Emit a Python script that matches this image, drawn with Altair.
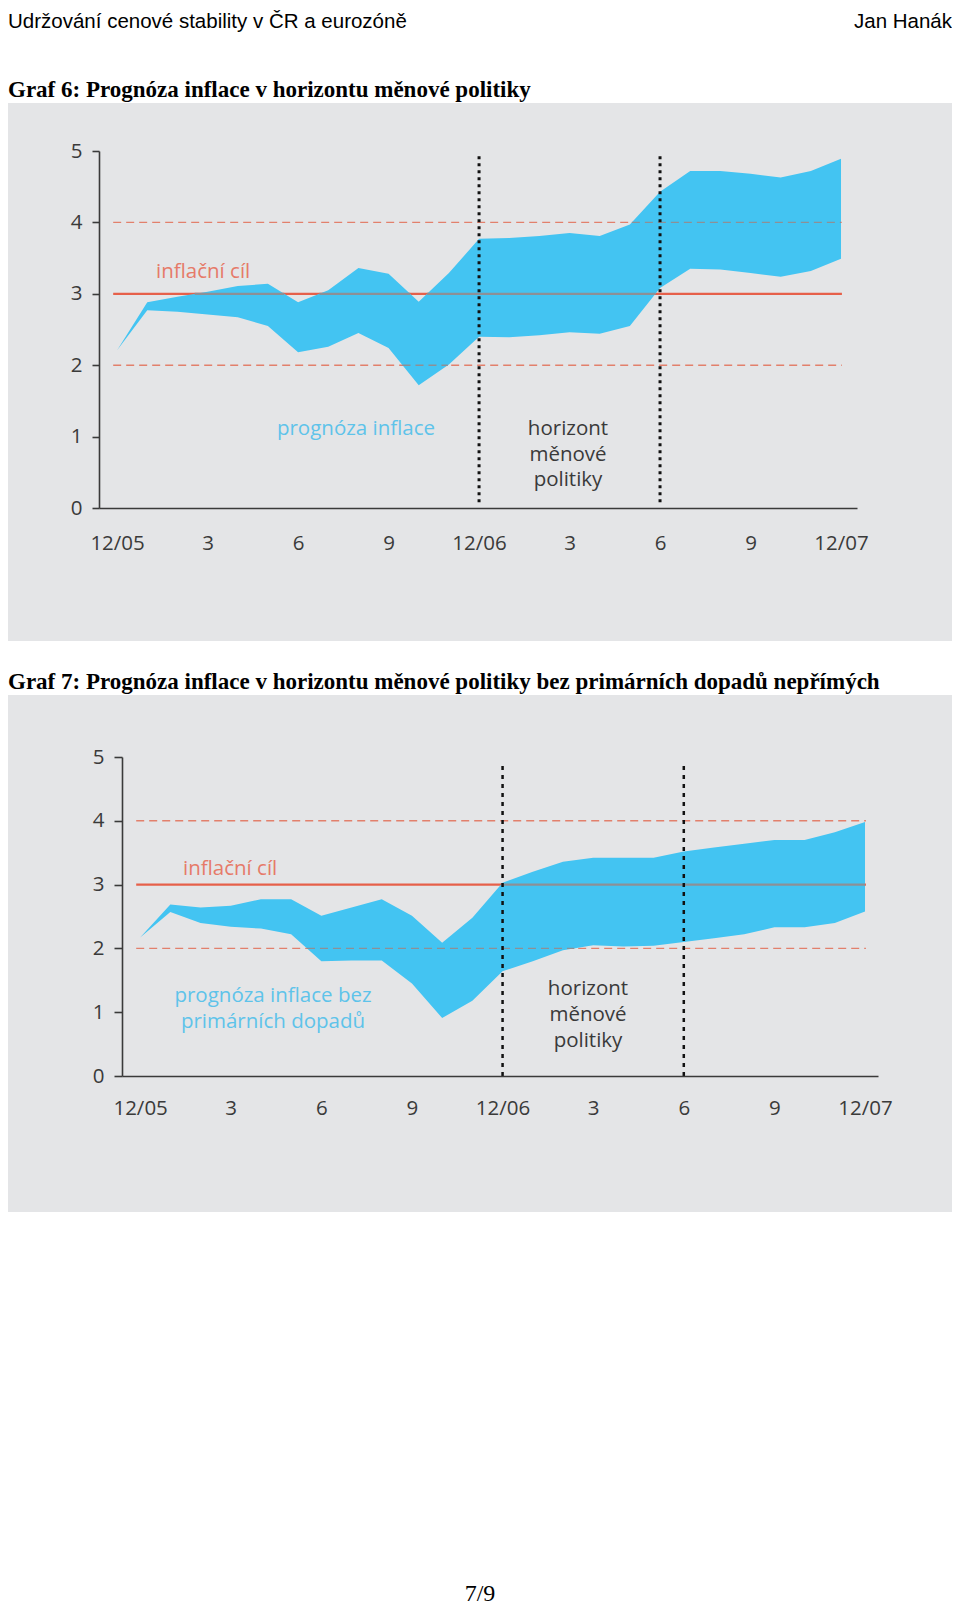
import altair as alt
import pandas as pd

# ---------------- data ----------------
MONTHS = list(range(25))  # 0 = 12/05 ... 24 = 12/07

G6_UPPER = [2.21, 2.88, 2.96, 3.03, 3.11, 3.14, 2.88, 3.05, 3.36, 3.28, 2.89, 3.29,
            3.77, 3.78, 3.81, 3.85, 3.81, 3.97, 4.43, 4.72, 4.72, 4.68, 4.63, 4.72, 4.89]
G6_LOWER = [2.21, 2.77, 2.75, 2.71, 2.67, 2.55, 2.18, 2.26, 2.45, 2.24, 1.72, 2.01,
            2.40, 2.39, 2.42, 2.46, 2.44, 2.55, 3.08, 3.35, 3.34, 3.29, 3.24, 3.32, 3.49]

G7_UPPER = [2.17, 2.69, 2.64, 2.67, 2.77, 2.77, 2.51, 2.64, 2.77, 2.51, 2.09, 2.48,
            3.03, 3.20, 3.36, 3.42, 3.42, 3.42, 3.52, 3.58, 3.64, 3.70, 3.70, 3.82, 3.98]
G7_LOWER = [2.17, 2.57, 2.40, 2.34, 2.31, 2.22, 1.80, 1.81, 1.81, 1.45, 0.91, 1.18,
            1.64, 1.80, 1.97, 2.05, 2.03, 2.04, 2.10, 2.16, 2.22, 2.33, 2.33, 2.40, 2.58]

X_TICK_VALUES = [0, 3, 6, 9, 12, 15, 18, 21, 24]
X_TICK_LABELS = ["12/05", "3", "6", "9", "12/06", "3", "6", "9", "12/07"]
Y_TICK_VALUES = [0, 1, 2, 3, 4, 5]

TARGET_LEVELS = [3]
BAND_LEVELS = [2, 4]
TARGET_FROM, TARGET_TO = -0.13, 24.03
HORIZON_MONTHS = [12, 18]

HEADER_LEFT = "Udržování cenové stability v ČR a eurozóně"
HEADER_RIGHT = "Jan Hanák"
TITLE_6 = "Graf 6: Prognóza inflace v horizontu měnové politiky"
TITLE_7 = "Graf 7: Prognóza inflace v horizontu měnové politiky bez primárních dopadů nepřímých"
FOOTER = "7/9"

# ---------------- styles ----------------
PAGE_W, PAGE_H = 944, 1601
PANEL = "#e4e5e7"
AREA = "#43c4f2"
RED = "#e6604a"
RED_DASH = "#e2806c"
OVER = "#8d9096"
TXT = "#3a3a3a"
LABEL_RED = "#e67a69"
LABEL_BLUE = "#5ec3ea"
SANS = "Open Sans"

label_expr = " : ".join(
    f"datum.value == {v} ? '{l}'" for v, l in zip(X_TICK_VALUES, X_TICK_LABELS)
) + " : ''"

one = pd.DataFrame({"k": [0]})


def covered(months, lo, hi, level):
    """month intervals where the level lies inside the band"""
    out = []
    for i in range(len(months) - 1):
        tmin, tmax = 0.0, 1.0
        for a, b, s in ((lo[i], lo[i + 1], -1), (hi[i], hi[i + 1], 1)):
            f0, f1 = s * (a - level), s * (b - level)
            if f0 >= 0 and f1 >= 0:
                continue
            if f0 < 0 and f1 < 0:
                tmin, tmax = 1.0, 0.0
                break
            tc = f0 / (f0 - f1)
            if f0 < 0:
                tmin = max(tmin, tc)
            else:
                tmax = min(tmax, tc)
        if tmin < tmax:
            m0, m1 = months[i], months[i + 1]
            seg = (m0 + tmin * (m1 - m0), m0 + tmax * (m1 - m0))
            if out and abs(out[-1][1] - seg[0]) < 1e-9:
                out[-1] = (out[-1][0], seg[1])
            else:
                out.append(seg)
    return out


def chart_layers(c):
    xs = alt.Scale(domain=c["xdom"], range=c["xrange"], nice=False, zero=False)
    ys = alt.Scale(domain=[0, 5], range=c["yrange"], nice=False, zero=False)
    xaxis = alt.Axis(orient="bottom", offset=c["yrange"][0] - PAGE_H,
                     values=X_TICK_VALUES, labelExpr=label_expr, ticks=False, tickSize=0,
                     labelPadding=c["xpad"], grid=False, title=None, zindex=1,
                     domainColor=TXT, domainWidth=1.6, labelFont=SANS, labelFontSize=20.5,
                     labelColor=TXT, labelBaseline="top", labelFlush=False, labelOverlap=False)
    yaxis = alt.Axis(orient="left", offset=-c["xrange"][0],
                     values=Y_TICK_VALUES, tickSize=c["ytick"], labelPadding=10, grid=False,
                     title=None, zindex=1, domainColor=TXT, domainWidth=1.6, tickColor=TXT,
                     tickWidth=1.6, labelFont=SANS, labelFontSize=20.5, labelColor=TXT,
                     labelFlush=False, labelOverlap=False)

    def X(f, show=False):
        return alt.X(f, type="quantitative", scale=xs, axis=xaxis if show else None)

    def Y(f, show=False):
        return alt.Y(f, type="quantitative", scale=ys, axis=yaxis if show else None)

    band = pd.DataFrame({"month": MONTHS, "lower": c["lower"], "upper": c["upper"]})
    target = pd.DataFrame({"level": TARGET_LEVELS, "start": TARGET_FROM, "end": TARGET_TO})
    bands = pd.DataFrame({"level": BAND_LEVELS, "start": TARGET_FROM, "end": TARGET_TO})
    over_t, over_b = [], []
    for lv in TARGET_LEVELS:
        for s, e in covered(MONTHS, c["lower"], c["upper"], lv):
            over_t.append({"level": lv, "start": s, "end": e})
    for lv in BAND_LEVELS:
        for s, e in covered(MONTHS, c["lower"], c["upper"], lv):
            over_b.append({"level": lv, "start": s, "end": e})
    horizon = pd.DataFrame({"month": HORIZON_MONTHS, "y0": c["hy"][0], "y1": c["hy"][1]})

    px1, px2, py1, py2 = c["panel"]
    layers = [
        alt.Chart(one).mark_rect(color=PANEL).encode(
            x=alt.value(px1), x2=alt.value(px2), y=alt.value(py1), y2=alt.value(py2)),
        alt.Chart(bands).mark_rule(color=RED_DASH, strokeWidth=1.4, strokeDash=[8, 5]).encode(
            x=X("start"), x2="end", y=Y("level")),
        alt.Chart(target).mark_rule(color=RED, strokeWidth=2.2).encode(
            x=X("start"), x2="end", y=Y("level")),
        alt.Chart(band).mark_area(color=AREA, opacity=1).encode(
            x=X("month", True), y=Y("lower", True), y2="upper"),
    ]
    if over_b:
        layers.append(alt.Chart(pd.DataFrame(over_b)).mark_rule(
            color=OVER, strokeWidth=1.4, strokeDash=[8, 5]).encode(
            x=X("start"), x2="end", y=Y("level")))
    if over_t:
        layers.append(alt.Chart(pd.DataFrame(over_t)).mark_rule(
            color=OVER, strokeWidth=2.2).encode(x=X("start"), x2="end", y=Y("level")))
    layers.append(alt.Chart(horizon).mark_rule(
        color="#111111", strokeWidth=c["dotw"], strokeDash=c["dotdash"]).encode(
        x=X("month"), y=Y("y0"), y2="y1"))

    for t in c["texts"]:
        props = dict(align=t.get("align", "left"), baseline="alphabetic",
                     font=t.get("font", SANS), fontSize=t.get("size", 20.5),
                     fontWeight=t.get("weight", "normal"), color=t.get("color", TXT))
        if isinstance(t["text"], list):
            props["lineHeight"] = t.get("lh", 26)
        layers.append(alt.Chart(one).mark_text(**props).encode(
            x=alt.value(t["x"]), y=alt.value(t["y"]), text=alt.value(t["text"])))
    return layers


# all pixel positions are relative to the page point (8, 8)
c6 = dict(
    xdom=[-0.6, 24.53], xrange=[91, 849], yrange=[500, 143], ytick=7, xpad=25,
    lower=G6_LOWER, upper=G6_UPPER, hy=(0.08, 4.97), dotw=3, dotdash=[3, 4],
    panel=(0, PAGE_W, 95, 633),
    texts=[
        dict(x=0, y=20, text=HEADER_LEFT, font="Liberation Sans", size=20.5, color="#000000"),
        dict(x=PAGE_W, y=20, text=HEADER_RIGHT, font="Liberation Sans", size=20.5,
             color="#000000", align="right"),
        dict(x=0, y=89, text=TITLE_6, font="Liberation Serif", size=23, weight="bold",
             color="#000000"),
        dict(x=148, y=270, text="inflační cíl", color=LABEL_RED),
        dict(x=348, y=427, text="prognóza inflace", color=LABEL_BLUE, align="center"),
        dict(x=560, y=427, text=["horizont", "měnové", "politiky"], align="center", lh=25.5),
    ],
)

c7 = dict(
    xdom=[-0.6, 24.43], xrange=[114, 870], yrange=[1068, 749], ytick=8, xpad=22,
    lower=G7_LOWER, upper=G7_UPPER, hy=(0.0, 4.93), dotw=2.5, dotdash=[4, 5],
    panel=(0, PAGE_W, 687, 1204),
    texts=[
        dict(x=0, y=681, text=TITLE_7, font="Liberation Serif", size=23, weight="bold",
             color="#000000"),
        dict(x=472, y=1593, text=FOOTER, font="Liberation Serif", size=24, color="#000000",
             align="center"),
        dict(x=175, y=867, text="inflační cíl", color=LABEL_RED),
        dict(x=265, y=994, text=["prognóza inflace bez", "primárních dopadů"], color=LABEL_BLUE,
             align="center"),
        dict(x=580, y=987, text=["horizont", "měnové", "politiky"], align="center"),
    ],
)

chart = alt.layer(*chart_layers(c6), *chart_layers(c7)).resolve_scale(
    x="independent", y="independent"
).resolve_axis(
    x="independent", y="independent"
).properties(
    width=PAGE_W, height=PAGE_H, padding=0, background="#ffffff",
    autosize=alt.AutoSizeParams(type="none"),
).configure_view(stroke=None, fill=None)

chart.save("out.html", embed_options={"renderer": "svg", "actions": False})
